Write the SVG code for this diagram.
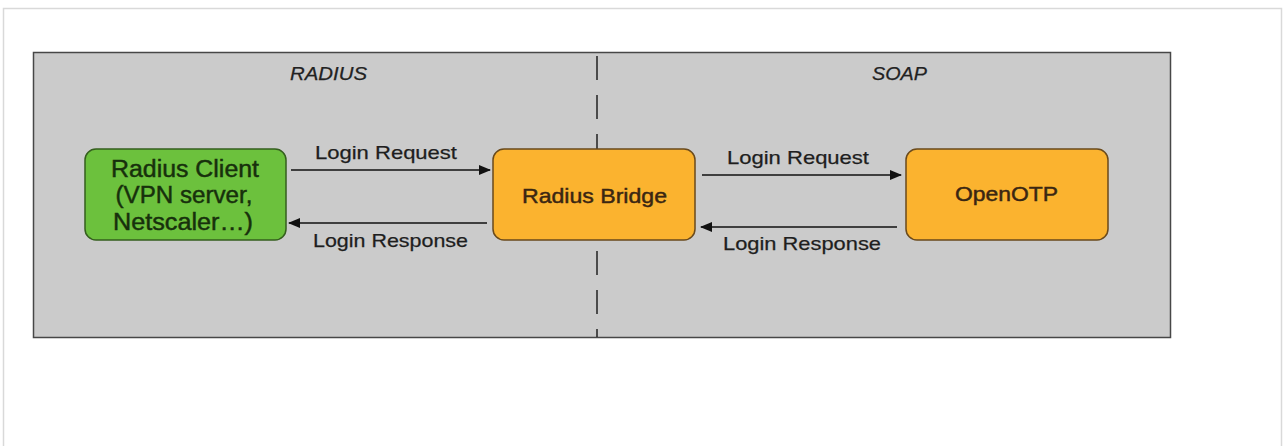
<svg xmlns="http://www.w3.org/2000/svg" width="1283" height="446" viewBox="0 0 1283 446">
<defs>
<style>
.lbl{font-family:"Liberation Sans",Arial,sans-serif;font-size:19px;fill:#1e1e1e;stroke:#1e1e1e;stroke-width:0.25}
.zone{font-family:"Liberation Sans",Arial,sans-serif;font-size:19px;font-style:italic;fill:#222;stroke:#222;stroke-width:0.25}
.node-o{fill:#fbb32f;stroke:#6a4a1c;stroke-width:1.5}
.node-g{fill:#6cc13d;stroke:#355f1e;stroke-width:1.5}
.txt-o{font-family:"Liberation Sans",Arial,sans-serif;font-size:21px;fill:#3a2612;stroke:#3a2612;stroke-width:0.45;text-anchor:middle}
.txt-g{font-family:"Liberation Sans",Arial,sans-serif;font-size:23px;fill:#17300c;stroke:#17300c;stroke-width:0.45;text-anchor:middle}
.conn{stroke:#111;stroke-width:1.3;fill:none;marker-end:url(#ah)}
</style>
<marker id="ah" viewBox="0 0 12 10" refX="11" refY="5" markerWidth="12" markerHeight="10" markerUnits="userSpaceOnUse" orient="auto">
<path d="M0,0 L12,5 L0,10 Z" fill="#111"/>
</marker>
</defs>
<rect width="1283" height="446" fill="#ffffff"/>
<rect x="3.5" y="8.5" width="1278" height="460" fill="none" stroke="#d9d9d9" stroke-width="1.5"/>
<g id="panel">
<rect x="33.5" y="52.5" width="1137" height="285" fill="#cbcbcb" stroke="#474747" stroke-width="1.5"/>
<line x1="597" y1="56" x2="597" y2="337" stroke="#222" stroke-width="1.5" stroke-dasharray="24,15"/>
<text class="zone" x="290" y="80" textLength="77" lengthAdjust="spacingAndGlyphs">RADIUS</text>
<text class="zone" x="872" y="80" textLength="55" lengthAdjust="spacingAndGlyphs">SOAP</text>
</g>
<g id="connectors">
<line class="conn" x1="291" y1="170" x2="490" y2="170"/>
<line class="conn" x1="487" y1="223" x2="289" y2="223"/>
<line class="conn" x1="702" y1="175" x2="901" y2="175"/>
<line class="conn" x1="897" y1="227" x2="701" y2="227"/>
<text class="lbl" x="315" y="159" textLength="142" lengthAdjust="spacingAndGlyphs">Login Request</text>
<text class="lbl" x="313" y="247" textLength="155" lengthAdjust="spacingAndGlyphs">Login Response</text>
<text class="lbl" x="727" y="164" textLength="142" lengthAdjust="spacingAndGlyphs">Login Request</text>
<text class="lbl" x="723" y="250" textLength="158" lengthAdjust="spacingAndGlyphs">Login Response</text>
</g>
<g id="radius-client">
<rect class="node-g" x="85" y="149" width="201" height="91" rx="11"/>
<text class="txt-g" x="185" y="177" textLength="148" lengthAdjust="spacingAndGlyphs">Radius Client</text>
<text class="txt-g" x="184" y="203" textLength="137" lengthAdjust="spacingAndGlyphs">(VPN server,</text>
<text class="txt-g" x="183" y="230" textLength="140" lengthAdjust="spacingAndGlyphs">Netscaler…)</text>
</g>
<g id="radius-bridge">
<rect class="node-o" x="493" y="149" width="202" height="91" rx="11"/>
<text class="txt-o" x="594.5" y="203" textLength="145" lengthAdjust="spacingAndGlyphs">Radius Bridge</text>
</g>
<g id="openotp">
<rect class="node-o" x="906" y="149" width="202" height="91" rx="11"/>
<text class="txt-o" x="1006.5" y="201" textLength="103" lengthAdjust="spacingAndGlyphs">OpenOTP</text>
</g>
</svg>
